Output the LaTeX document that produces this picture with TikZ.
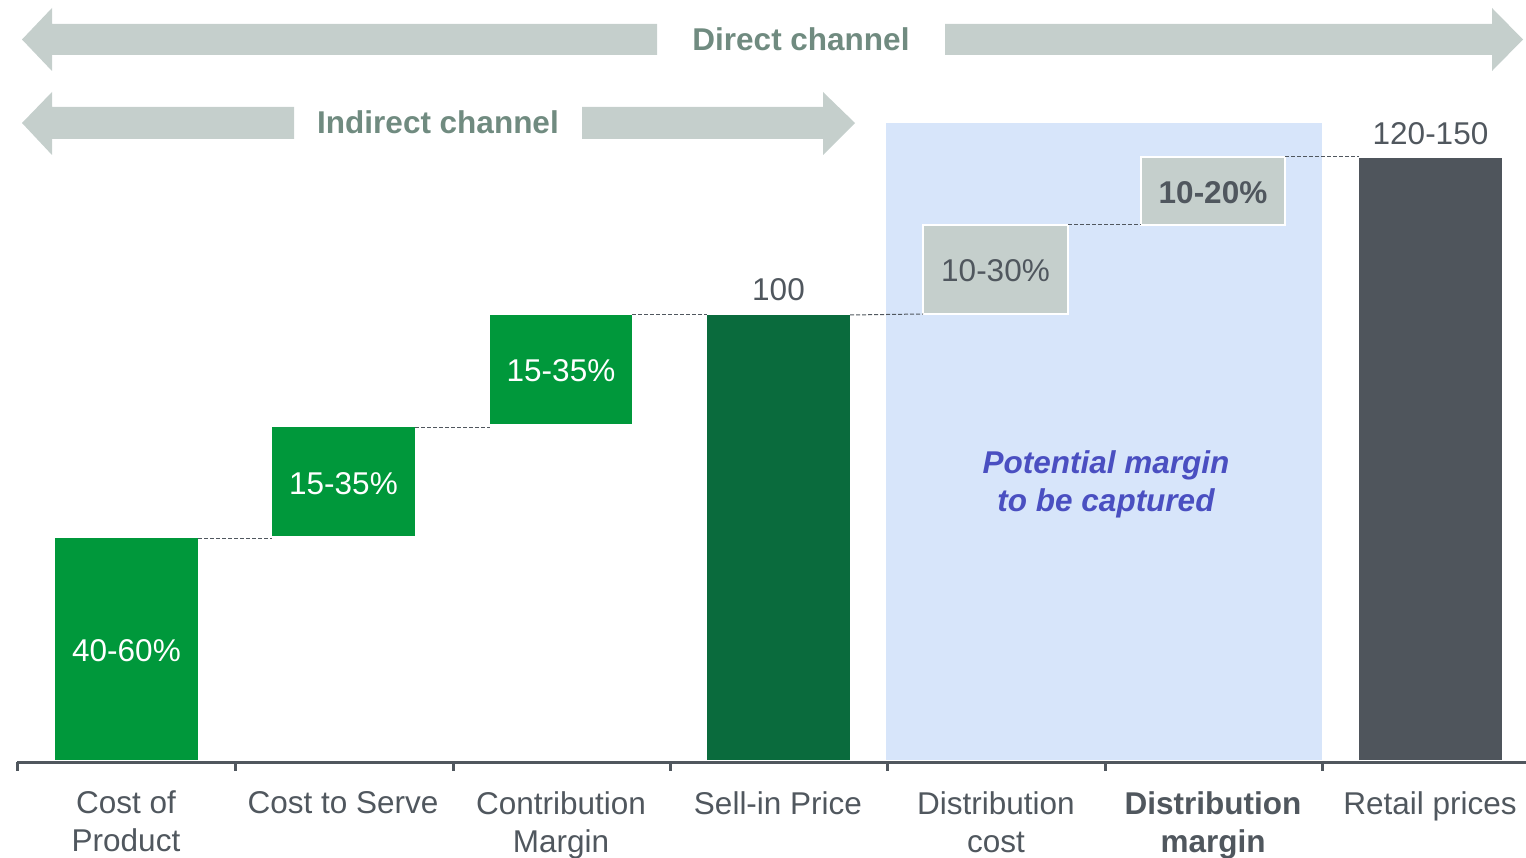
\documentclass[tikz,border=0pt]{standalone}
\usepackage{fontspec}
\setmainfont{Liberation Sans}
\definecolor{cgreen}{HTML}{00983B}
\definecolor{dgreen}{HTML}{0A6B3D}
\definecolor{dgrey}{HTML}{4F555C}
\definecolor{lgrey}{HTML}{C5CFCC}
\definecolor{chtext}{HTML}{708B80}
\definecolor{txt}{HTML}{50575E}
\definecolor{blueregion}{HTML}{D7E5FA}
\definecolor{purp}{HTML}{4A4FC1}
\begin{document}
\begin{tikzpicture}[x=1pt,y=-1pt,
  big/.style={font=\fontsize{31.5}{38}\selectfont},
  bar/.style={big, draw=none, inner sep=0pt, outer sep=0pt, anchor=south west, text=white, text height=25pt, text depth=0pt},
  greybox/.style={bar, fill=lgrey, draw=white, line width=2pt, text=txt},
  val/.style={big, text=txt, inner sep=0pt, anchor=base},
  conn/.style={draw=txt, line width=1pt, dash pattern=on 4pt off 2pt},
  axisline/.style={draw=txt, line width=3pt},
  chan/.style={fill=lgrey, draw=none},
  chantext/.style={big, font=\fontsize{31.5}{38}\selectfont\bfseries, text=chtext, inner sep=0pt},
  catlabel/.style={big, text=txt, align=center, anchor=north, inner sep=0pt}
]
\useasboundingbox (0,0) rectangle (1526,858);
% highlighted region
\fill[blueregion] (886,123) rectangle (1322,760);
% channel arrows
\fill[chan] (657,24) -- (52,24) -- (52,8) -- (22,39.5) -- (52,71) -- (52,55) -- (657,55) -- cycle;
\fill[chan] (945,24) -- (1492,24) -- (1492,8) -- (1523,39.5) -- (1492,71) -- (1492,55) -- (945,55) -- cycle;
\node[chantext] (direct) at (801,39) {Direct channel};
\fill[chan] (294,107) -- (52,107) -- (52,92) -- (22,123) -- (52,155) -- (52,139) -- (294,139) -- cycle;
\fill[chan] (582,107) -- (823,107) -- (823,92) -- (855,123) -- (823,155) -- (823,139) -- (582,139) -- cycle;
\node[chantext] (indirect) at (438,122) {Indirect channel};
% bars
\node[bar, fill=cgreen, minimum width=143pt, minimum height=222pt] (cop) at (55,760) {40-60\%};
\node[bar, fill=cgreen, minimum width=143pt, minimum height=109pt] (cts) at (272,536) {15-35\%};
\node[bar, fill=cgreen, minimum width=142pt, minimum height=109pt] (cm) at (490,424) {15-35\%};
\node[bar, fill=dgreen, minimum width=143pt, minimum height=445pt] (sip) at (707,760) {};
\node[greybox, minimum width=145pt, minimum height=89pt] (dc) at (923,314) {10-30\%};
\node[greybox, minimum width=144pt, minimum height=68pt] (dm) at (1141,225) {\bfseries 10-20\%};
\node[bar, fill=dgrey, minimum width=143pt, minimum height=602pt] (rp) at (1359,760) {};
% values
\node[val] (v100) at ([yshift=14pt]sip.north) {100};
\node[val] (v120) at ([yshift=13pt]rp.north) {120-150};
% dashed connectors
\draw[conn] (cop.north east) -- (cop.north east -| cts.west);
\draw[conn] (cts.north east) -- (cts.north east -| cm.west);
\draw[conn] (cm.north east) -- (cm.north east -| sip.west);
\draw[conn] (sip.north east) -- (dc.south west);
\draw[conn] (dc.north east) -- (dm.south west);
\draw[conn] (dm.north east) -- (dm.north east -| rp.west);
% potential margin
\node[big, font=\fontsize{31.5}{38}\selectfont\bfseries\itshape, text=purp, align=center] (pot) at (1106,484) {Potential margin\\ to be captured};
% axis
\coordinate (axL) at (17,762);
\coordinate (axR) at (1526,762);
\draw[axisline] (axL) -- (axR);
\foreach \x in {17,235,453,670,887,1105,1322} {
  \draw[draw=txt, line width=3pt] (\x,762) -- (\x,771);
}
% category labels
\node[catlabel] (l1) at (126,791) {Cost of\\Product};
\node[catlabel] (l2) at (343,791) {Cost to Serve};
\node[catlabel] (l3) at (561,791) {Contribution\\Margin};
\node[catlabel] (l4) at (778,791) {Sell-in Price};
\node[catlabel] (l5) at (996,791) {Distribution\\cost};
\node[catlabel, font=\fontsize{31.5}{38}\selectfont\bfseries] (l6) at (1213,791) {Distribution\\margin};
\node[catlabel] (l7) at (1430,791) {Retail prices};
\end{tikzpicture}
\end{document}
